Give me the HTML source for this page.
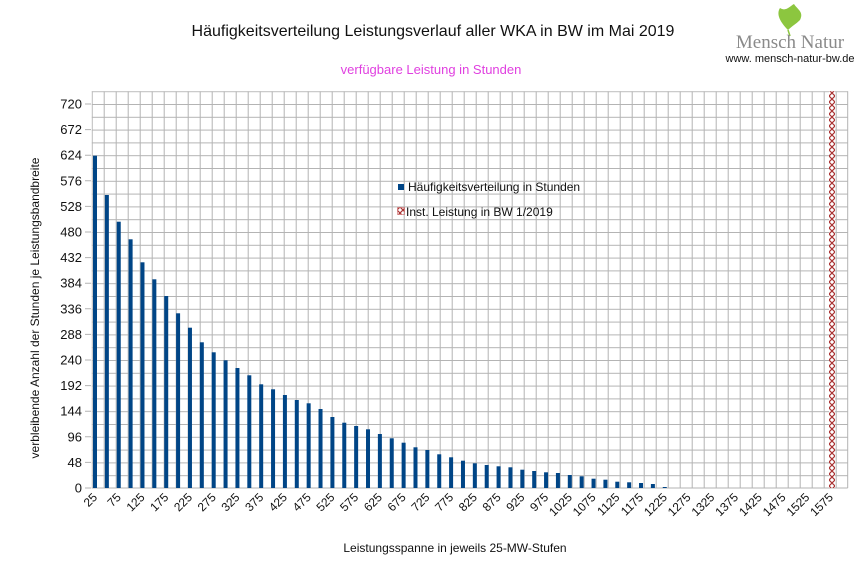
<!DOCTYPE html>
<html><head><meta charset="utf-8"><style>
body{margin:0;background:#fff}
svg{display:block;font-family:"Liberation Sans",sans-serif}
</style></head><body>
<svg width="866" height="578" viewBox="0 0 866 578" xmlns="http://www.w3.org/2000/svg">
<defs>
<pattern id="g" x="91.7" y="91.2" width="12" height="12.8" patternUnits="userSpaceOnUse">
<path d="M0.5 0 V12.8 M0 0.5 H12" stroke="#b3b3b3" stroke-width="1" fill="none"/>
</pattern>
<pattern id="h" x="829" y="0" width="6" height="6" patternUnits="userSpaceOnUse">
<path d="M0 0 L6 6 M6 0 L0 6" stroke="#a33" stroke-width="1.2"/>
</pattern>
</defs>
<rect width="866" height="578" fill="#fff"/>
<text x="433" y="36" font-size="16" text-anchor="middle" fill="#111">Häufigkeitsverteilung Leistungsverlauf aller WKA in BW im Mai 2019</text>
<text x="431" y="74" font-size="13" text-anchor="middle" fill="#e040e0">verfügbare Leistung in Stunden</text>
<!-- logo -->
<path d="M788 30 C780 22 776 14 780 8 C786 12 790 6 794 4 C798 10 804 12 800 20 C796 24 792 26 788 30 Z" fill="#8cc63f"/>
<path d="M788 30 L790 36" stroke="#8cc63f" stroke-width="1.5"/>
<text x="790" y="48" font-size="19" text-anchor="middle" font-family="Liberation Serif,serif" fill="#8a8a8a">Mensch Natur</text>
<text x="790" y="62" font-size="11" text-anchor="middle" fill="#111">www. mensch-natur-bw.de</text>
<!-- grid -->
<rect x="91.7" y="91.2" width="756" height="396.8" fill="url(#g)"/>
<line x1="847.7" y1="91.2" x2="847.7" y2="488" stroke="#b3b3b3"/>
<line x1="91.7" y1="488" x2="847.7" y2="488" stroke="#b3b3b3"/>
<g stroke="#b3b3b3"><path d="M85 104H91M85 129.6H91M85 155.2H91M85 180.8H91M85 206.4H91M85 232H91M85 257.6H91M85 283.2H91M85 308.8H91M85 334.4H91M85 360H91M85 385.6H91M85 411.2H91M85 436.8H91M85 462.4H91M85 488H91"/></g>
<g font-size="13" text-anchor="end" fill="#111">
<text x="82" y="108.5">720</text><text x="82" y="134">672</text><text x="82" y="159.7">624</text><text x="82" y="185.3">576</text><text x="82" y="210.9">528</text><text x="82" y="236.5">480</text><text x="82" y="262.1">432</text><text x="82" y="287.7">384</text><text x="82" y="313.3">336</text><text x="82" y="338.9">288</text><text x="82" y="364.5">240</text><text x="82" y="390.1">192</text><text x="82" y="415.7">144</text><text x="82" y="441.3">96</text><text x="82" y="466.9">48</text><text x="82" y="492.5">0</text>
</g>
<!-- bars -->
<g fill="#004586">
<rect x="93" y="155.7" width="4" height="332.3"/>
<rect x="104.87" y="195" width="4" height="293"/>
<rect x="116.74" y="221.7" width="4" height="266.3"/>
<rect x="128.61" y="239.3" width="4" height="248.7"/>
<rect x="140.48" y="262.3" width="4" height="225.7"/>
<rect x="152.35" y="279.3" width="4" height="208.7"/>
<rect x="164.22" y="296" width="4" height="192"/>
<rect x="176.09" y="313.3" width="4" height="174.7"/>
<rect x="187.96" y="327.7" width="4" height="160.3"/>
<rect x="199.83" y="342.3" width="4" height="145.7"/>
<rect x="211.7" y="352.3" width="4" height="135.7"/>
<rect x="223.57" y="360.3" width="4" height="127.7"/>
<rect x="235.44" y="368" width="4" height="120"/>
<rect x="247.31" y="375.3" width="4" height="112.7"/>
<rect x="259.18" y="384.3" width="4" height="103.7"/>
<rect x="271.05" y="389.3" width="4" height="98.7"/>
<rect x="282.92" y="395" width="4" height="93"/>
<rect x="294.79" y="400" width="4" height="88"/>
<rect x="306.66" y="403.3" width="4" height="84.7"/>
<rect x="318.53" y="409" width="4" height="79"/>
<rect x="330.4" y="417" width="4" height="71"/>
<rect x="342.27" y="422.7" width="4" height="65.3"/>
<rect x="354.14" y="426" width="4" height="62"/>
<rect x="366.01" y="429.3" width="4" height="58.7"/>
<rect x="377.88" y="434" width="4" height="54"/>
<rect x="389.75" y="438.3" width="4" height="49.7"/>
<rect x="401.62" y="442.7" width="4" height="45.3"/>
<rect x="413.49" y="447.3" width="4" height="40.7"/>
<rect x="425.36" y="450" width="4" height="38"/>
<rect x="437.23" y="454.3" width="4" height="33.7"/>
<rect x="449.1" y="457.3" width="4" height="30.7"/>
<rect x="460.97" y="460.7" width="4" height="27.3"/>
<rect x="472.84" y="463.3" width="4" height="24.7"/>
<rect x="484.71" y="465" width="4" height="23"/>
<rect x="496.58" y="466.3" width="4" height="21.7"/>
<rect x="508.45" y="467.3" width="4" height="20.7"/>
<rect x="520.32" y="469.7" width="4" height="18.3"/>
<rect x="532.19" y="471" width="4" height="17"/>
<rect x="544.06" y="472.3" width="4" height="15.7"/>
<rect x="555.93" y="473" width="4" height="15"/>
<rect x="567.8" y="475" width="4" height="13"/>
<rect x="579.67" y="476.3" width="4" height="11.7"/>
<rect x="591.54" y="478.7" width="4" height="9.3"/>
<rect x="603.41" y="479.7" width="4" height="8.3"/>
<rect x="615.28" y="481.7" width="4" height="6.3"/>
<rect x="627.15" y="482.3" width="4" height="5.7"/>
<rect x="639.02" y="483" width="4" height="5"/>
<rect x="650.89" y="484" width="4" height="4"/>
<rect x="662.76" y="487" width="4" height="1"/>
</g>
<rect x="829" y="91.2" width="6" height="396.8" fill="#fff"/>
<rect x="829" y="91.2" width="6" height="396.8" fill="url(#h)"/>
<!-- x labels -->
<g font-size="12" text-anchor="end" fill="#111">
<text transform="translate(98,498) rotate(-45)">25</text>
<text transform="translate(121.7,498) rotate(-45)">75</text>
<text transform="translate(145.5,498) rotate(-45)">125</text>
<text transform="translate(169.2,498) rotate(-45)">175</text>
<text transform="translate(193,498) rotate(-45)">225</text>
<text transform="translate(216.7,498) rotate(-45)">275</text>
<text transform="translate(240.4,498) rotate(-45)">325</text>
<text transform="translate(264.2,498) rotate(-45)">375</text>
<text transform="translate(287.9,498) rotate(-45)">425</text>
<text transform="translate(311.7,498) rotate(-45)">475</text>
<text transform="translate(335.4,498) rotate(-45)">525</text>
<text transform="translate(359.1,498) rotate(-45)">575</text>
<text transform="translate(382.9,498) rotate(-45)">625</text>
<text transform="translate(406.6,498) rotate(-45)">675</text>
<text transform="translate(430.4,498) rotate(-45)">725</text>
<text transform="translate(454.1,498) rotate(-45)">775</text>
<text transform="translate(477.8,498) rotate(-45)">825</text>
<text transform="translate(501.6,498) rotate(-45)">875</text>
<text transform="translate(525.3,498) rotate(-45)">925</text>
<text transform="translate(549.1,498) rotate(-45)">975</text>
<text transform="translate(572.8,498) rotate(-45)">1025</text>
<text transform="translate(596.5,498) rotate(-45)">1075</text>
<text transform="translate(620.3,498) rotate(-45)">1125</text>
<text transform="translate(644,498) rotate(-45)">1175</text>
<text transform="translate(667.8,498) rotate(-45)">1225</text>
<text transform="translate(691.5,498) rotate(-45)">1275</text>
<text transform="translate(715.2,498) rotate(-45)">1325</text>
<text transform="translate(739,498) rotate(-45)">1375</text>
<text transform="translate(762.7,498) rotate(-45)">1425</text>
<text transform="translate(786.5,498) rotate(-45)">1475</text>
<text transform="translate(810.2,498) rotate(-45)">1525</text>
<text transform="translate(833.9,498) rotate(-45)">1575</text>
</g>
<!-- legend -->
<rect x="398" y="184" width="6" height="6" fill="#004586"/>
<text x="408" y="191" font-size="12" fill="#111">Häufigkeitsverteilung in Stunden</text>
<rect x="397.5" y="207.5" width="7" height="7" fill="url(#h)" stroke="#c66" stroke-width="0.6"/>
<text x="406" y="216" font-size="12" fill="#111">Inst. Leistung in BW 1/2019</text>
<!-- axis titles -->
<text x="455" y="552" font-size="12" text-anchor="middle" fill="#111">Leistungsspanne in jeweils 25-MW-Stufen</text>
<text transform="translate(39,308) rotate(-90)" font-size="12" text-anchor="middle" fill="#111">verbleibende Anzahl der Stunden je Leistungsbandbreite</text>
</svg>
</body></html>
